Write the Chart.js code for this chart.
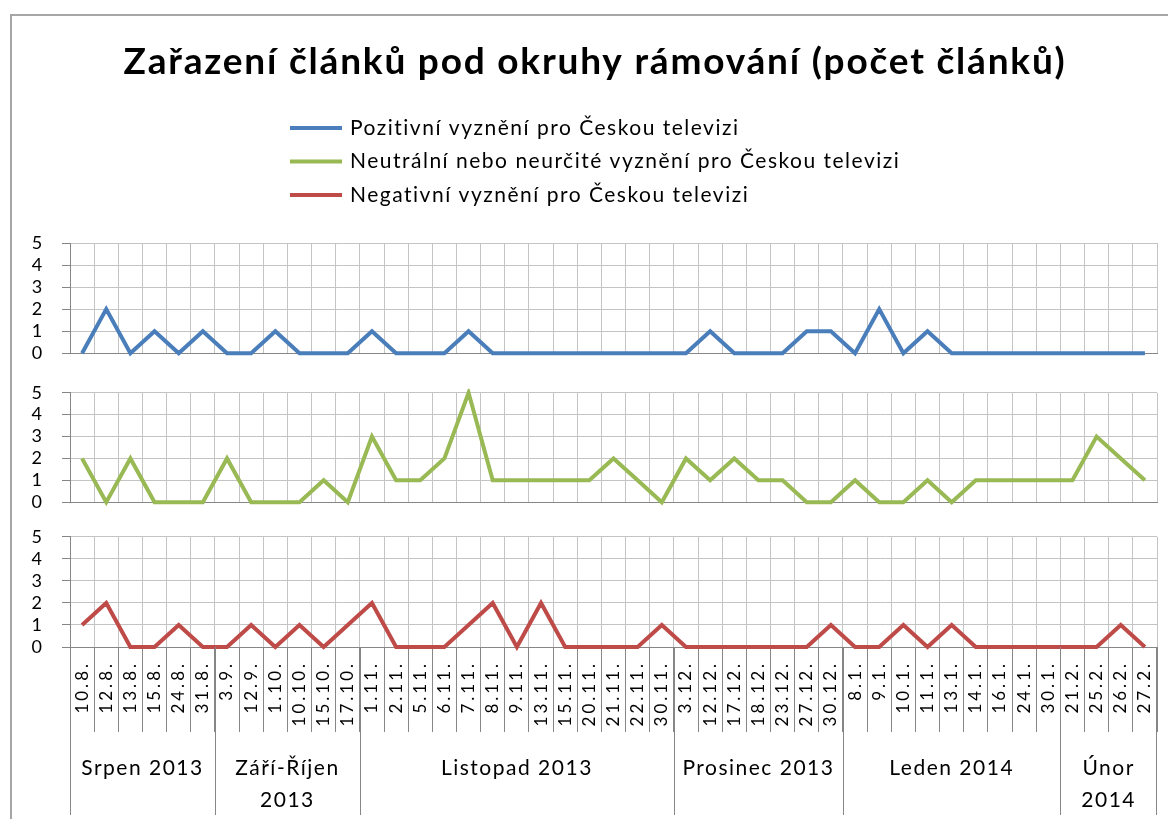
<!DOCTYPE html>
<html lang="cs">
<head>
<meta charset="utf-8">
<title>Zařazení článků pod okruhy rámování</title>
<script src="https://cdn.jsdelivr.net/npm/chart.js@4.4.1/dist/chart.umd.min.js"></script>
<style>
  html, body { margin: 0; padding: 0; background: #fff; }
  #wrap { position: relative; width: 1168px; height: 819px; overflow: hidden; background: #fff; }
  #frame { position: absolute; left: 10px; top: 14px; width: 1200px; height: 900px;
           border-left: 2px solid #a6a6a6; border-top: 2px solid #a6a6a6; }
  canvas { position: absolute; left: 0; }
</style>
</head>
<body>
<div id="wrap">
  <div id="frame"></div>
  <canvas id="pos" width="1190" height="382" style="top:0"></canvas>
  <canvas id="neu" width="1168" height="171" style="top:362px"></canvas>
  <canvas id="neg" width="1168" height="310" style="top:509px"></canvas>
</div>
<script>
// data
const categories = [
  '10.8.', '12.8.', '13.8.', '15.8.', '24.8.', '31.8.',
  '3.9.', '12.9.', '1.10.', '10.10.', '15.10.', '17.10.',
  '1.11.', '2.11.', '5.11.', '6.11.', '7.11.', '8.11.', '9.11.', '13.11.', '15.11.', '20.11.', '21.11.', '22.11.', '30.11.',
  '3.12.', '12.12.', '17.12.', '18.12.', '23.12.', '27.12.', '30.12.',
  '8.1.', '9.1.', '10.1.', '11.1.', '13.1.', '14.1.', '16.1.', '24.1.', '30.1.',
  '21.2.', '25.2.', '26.2.', '27.2.'
];
const groupLabels = [['Srpen 2013'], ['Září-Říjen', '2013'], ['Listopad 2013'], ['Prosinec 2013'], ['Leden 2014'], ['Únor', '2014']];
const groupSizes = [6, 6, 13, 7, 9, 4];

const seriesNames = [
  'Pozitivní vyznění pro Českou televizi',
  'Neutrální nebo neurčité vyznění pro Českou televizi',
  'Negativní vyznění pro Českou televizi'
];
const positive = [0, 2, 0, 1, 0, 1,  0, 0, 1, 0, 0, 0,  1, 0, 0, 0, 1, 0, 0, 0, 0, 0, 0, 0, 0,  0, 1, 0, 0, 0, 1, 1,  0, 2, 0, 1, 0, 0, 0, 0, 0,  0, 0, 0, 0];
const neutral  = [2, 0, 2, 0, 0, 0,  2, 0, 0, 0, 1, 0,  3, 1, 1, 2, 5, 1, 1, 1, 1, 1, 2, 1, 0,  2, 1, 2, 1, 1, 0, 0,  1, 0, 0, 1, 0, 1, 1, 1, 1,  1, 3, 2, 1];
const negative = [1, 2, 0, 0, 1, 0,  0, 1, 0, 1, 0, 1,  2, 0, 0, 0, 1, 2, 0, 2, 0, 0, 0, 0, 1,  0, 0, 0, 0, 0, 0, 1,  0, 0, 1, 0, 1, 0, 0, 0, 0,  0, 0, 1, 0];

const FONT = 'Lato, "Open Sans", sans-serif';
const colors = ['#4a7ebb', '#98b954', '#be4b48'];
const gridColor = '#c4c4c4';
const axisColor = '#868686';
const clear = 'rgba(0,0,0,0)';

// legend drawn as a vertical list under the title
const legendPlugin = {
  id: 'stackedLegend',
  afterDraw(chart) {
    const ctx = chart.ctx;
    ctx.save();
    ctx.font = '21px ' + FONT;
    ctx.letterSpacing = '1.5px';
    ctx.textBaseline = 'middle';
    ctx.fillStyle = '#000';
    seriesNames.forEach((name, i) => {
      const y = 128 + i * 33.5;
      ctx.strokeStyle = colors[i];
      ctx.lineWidth = 4;
      ctx.beginPath();
      ctx.moveTo(290, y);
      ctx.lineTo(342, y);
      ctx.stroke();
      ctx.fillText(name, 350, y);
    });
    ctx.restore();
  }
};

// wider letter spacing, like the original rendering
function spacing(px) {
  return { id: 'spacing', beforeDraw(chart) { chart.ctx.letterSpacing = px + 'px'; } };
}

// month groups under the date labels
const groupPlugin = {
  id: 'groups',
  afterDraw(chart) {
    const { ctx, chartArea } = chart;
    const xs = chart.scales.x;
    const half = (xs.getPixelForValue(1) - xs.getPixelForValue(0)) / 2;
    const top = chartArea.bottom;
    const bottom = chart.height - 4;
    ctx.save();
    ctx.letterSpacing = '1.5px';
    ctx.strokeStyle = axisColor;
    ctx.lineWidth = 1;
    ctx.fillStyle = '#000';
    ctx.font = '21px ' + FONT;
    ctx.textAlign = 'center';
    ctx.textBaseline = 'middle';
    let start = 0;
    let x1 = 0;
    groupLabels.forEach((lines, gi) => {
      const end = start + groupSizes[gi] - 1;
      const x0 = xs.getPixelForValue(start) - half;
      x1 = xs.getPixelForValue(end) + half;
      ctx.beginPath();
      ctx.moveTo(Math.round(x0) + 0.5, top);
      ctx.lineTo(Math.round(x0) + 0.5, bottom);
      ctx.stroke();
      lines.forEach((t, li) => ctx.fillText(t, (x0 + x1) / 2, top + 121 + li * 32));
      start = end + 1;
    });
    ctx.beginPath();
    ctx.moveTo(Math.round(x1) - 0.5, top);
    ctx.lineTo(Math.round(x1) - 0.5, bottom);
    ctx.stroke();
    ctx.restore();
  }
};

function xAxis(withLabels) {
  return {
    type: 'category',
    offset: true,
    grid: {
      offset: true,
      color: c => c.index === 0 ? clear : gridColor,
      drawTicks: withLabels,
      tickLength: 85,
      tickColor: axisColor
    },
    border: { color: axisColor },
    ticks: withLabels ? {
      autoSkip: false,
      maxRotation: 90,
      minRotation: 90,
      padding: -71,
      color: '#000',
      font: { family: FONT, size: 17 }
    } : { display: false },
    afterFit: s => { s.height = withLabels ? 172 : 0; }
  };
}

function yAxis(pad) {
  return {
    min: 0,
    max: 5,
    ticks: { stepSize: 1, autoSkip: false, padding: pad, color: '#000', font: { family: FONT, size: 18 } },
    grid: {
      color: c => c.tick && c.tick.value === 0 ? clear : gridColor,
      tickLength: 8,
      tickColor: axisColor
    },
    border: { color: axisColor },
    afterFit: s => { s.width = 70; }
  };
}

function panel(id, idx, values, opts) {
  const scales = { x: xAxis(opts.labels), y: yAxis(opts.yPad) };
  if (opts.rightPad) {
    scales.pad = {
      position: 'right',
      grid: { display: false },
      border: { display: false },
      ticks: { display: false },
      afterFit: s => { s.width = opts.rightPad; }
    };
  }
  return new Chart(document.getElementById(id), {
    type: 'line',
    data: {
      labels: categories,
      datasets: [{
        label: seriesNames[idx],
        data: values,
        borderColor: colors[idx],
        backgroundColor: colors[idx],
        borderWidth: 4,
        pointRadius: 0,
        tension: 0,
        clip: 4
      }]
    },
    options: {
      responsive: false,
      animation: false,
      devicePixelRatio: 1,
      layout: { padding: opts.padding },
      plugins: {
        legend: { display: false },
        tooltip: { enabled: false },
        title: opts.title || { display: false }
      },
      scales: scales
    },
    plugins: opts.plugins || []
  });
}

// the y tick padding also reserves room above/below each panel,
// so the canvases overlap a little
panel('pos', 0, positive, {
  labels: false,
  yPad: 18,
  rightPad: 33,
  padding: { left: 0, right: 0, top: 0, bottom: 0 },
  title: {
    display: true,
    text: 'Zařazení článků pod okruhy rámování (počet článků)',
    color: '#000',
    font: { family: FONT, size: 37, weight: 'bold' },
    padding: { top: 40, bottom: 158.6 }
  },
  plugins: [spacing(1.8), legendPlugin]
});

panel('neu', 1, neutral, {
  labels: false,
  yPad: 20,
  padding: { left: 0, right: 11, top: 0, bottom: 0 }
});

panel('neg', 2, negative, {
  labels: true,
  yPad: 17,
  padding: { left: 0, right: 11, top: 0, bottom: 0 },
  plugins: [spacing(3), groupPlugin]
});
</script>
</body>
</html>
